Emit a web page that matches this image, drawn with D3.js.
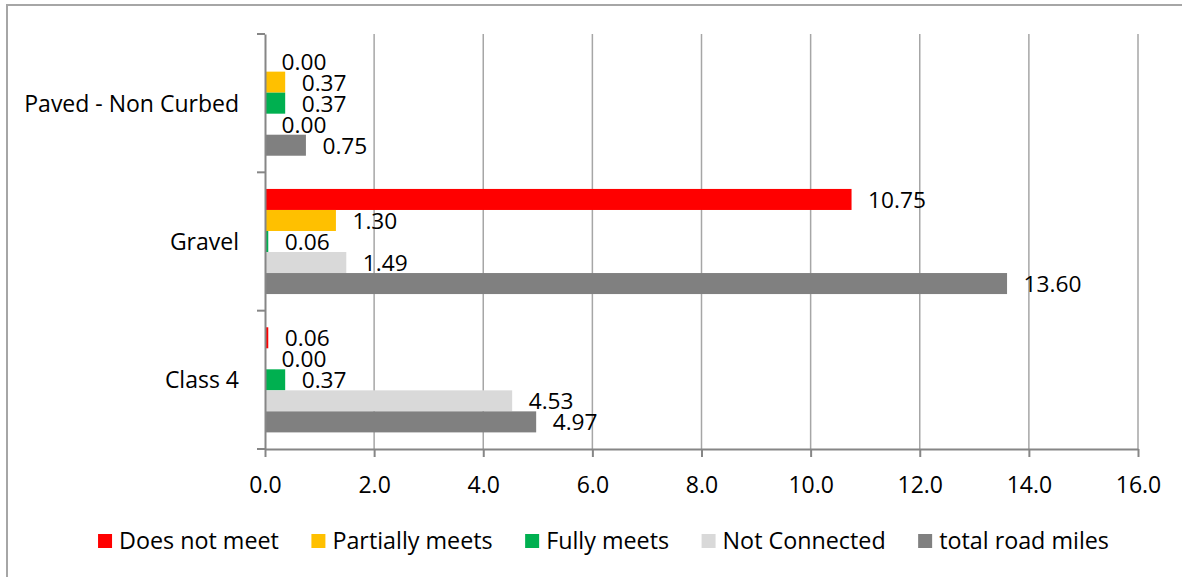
<!DOCTYPE html>
<html>
<head>
<meta charset="utf-8">
<script src="https://cdn.jsdelivr.net/npm/d3@7"></script>
<style>
  html, body { margin: 0; padding: 0; background: #fff; }
  svg { display: block; font-family: "Open Sans", sans-serif; }
</style>
</head>
<body>
<svg id="chart" width="1182" height="577"></svg>
<script>
// Road categories (top to bottom)
const categories = ["Paved - Non Curbed", "Gravel", "Class 4"];
// Series shown within each category (top to bottom)
const seriesNames = ["Does not meet", "Partially meets", "Fully meets", "Not Connected", "total road miles"];
const seriesColors = ["#FF0000", "#FFC000", "#00B050", "#D9D9D9", "#808080"];
// Miles per series, one entry per category
const doesNotMeet = [0.00, 10.75, 0.06];
const partiallyMeets = [0.37, 1.30, 0.00];
const fullyMeets = [0.37, 0.06, 0.37];
const notConnected = [0.00, 1.49, 4.53];
const totalRoadMiles = [0.75, 13.60, 4.97];
const xTicks = [0, 2, 4, 6, 8, 10, 12, 14, 16];

const seriesValues = [doesNotMeet, partiallyMeets, fullyMeets, notConnected, totalRoadMiles];

const svg = d3.select("#chart");
const W = 1182, H = 577;
const plot = { left: 265, right: 1138, top: 34, bottom: 449 };

// Chart frame
svg.append("rect")
  .attr("x", 7).attr("y", 5)
  .attr("width", W + 20).attr("height", H + 20)
  .attr("fill", "#fff")
  .attr("stroke", "#A6A6A6")
  .attr("stroke-width", 2);

const x = d3.scaleLinear().domain([0, 16]).range([plot.left, plot.right]);
const y = d3.scaleBand().domain(categories).range([plot.top, plot.bottom]).padding(0);
const ySub = d3.scaleBand().domain(seriesNames).range([0, y.bandwidth()])
  .paddingInner(0).paddingOuter(0.79);

// Vertical gridlines
svg.append("g")
  .selectAll("line")
  .data(xTicks.filter(d => d > 0))
  .join("line")
  .attr("x1", d => x(d)).attr("x2", d => x(d))
  .attr("y1", plot.top).attr("y2", plot.bottom)
  .attr("stroke", "#A6A6A6")
  .attr("stroke-width", 1.5);

// Bars
const groups = svg.append("g")
  .selectAll("g")
  .data(categories)
  .join("g")
  .attr("transform", c => `translate(0,${y(c)})`);

groups.each(function(c, ci) {
  const g = d3.select(this);
  const rows = seriesNames.map((s, si) => ({ s, v: seriesValues[si][ci], color: seriesColors[si] }));
  g.selectAll("rect")
    .data(rows)
    .join("rect")
    .attr("x", x(0))
    .attr("y", d => ySub(d.s))
    .attr("width", d => x(d.v) - x(0))
    .attr("height", ySub.bandwidth())
    .attr("fill", d => d.color);
  g.selectAll("text")
    .data(rows)
    .join("text")
    .attr("x", d => x(d.v) + 16.5)
    .attr("y", d => ySub(d.s) + ySub.bandwidth() / 2)
    .attr("dy", "0.37em")
    .attr("font-size", 22.7)
    .attr("fill", "#000")
    .text(d => d.v.toFixed(2));
});

// X axis
const xAxis = svg.append("g")
  .attr("transform", `translate(0,${plot.bottom})`)
  .call(d3.axisBottom(x).tickValues(xTicks).tickFormat(d3.format(".1f")).tickSize(8).tickSizeOuter(0));
xAxis.select(".domain").attr("stroke", "#868686").attr("stroke-width", 2);
xAxis.selectAll(".tick line").attr("stroke", "#868686").attr("stroke-width", 2);
xAxis.selectAll(".tick text")
  .attr("font-family", "Open Sans, sans-serif")
  .attr("font-size", 23)
  .attr("fill", "#000")
  .attr("y", 44).attr("dy", 0);

// Y axis
const yAxis = svg.append("g")
  .attr("transform", `translate(${plot.left},0)`)
  .call(d3.axisLeft(y).tickSize(0).tickSizeOuter(0).tickPadding(26));
yAxis.select(".domain").attr("stroke", "#868686").attr("stroke-width", 2);
yAxis.selectAll(".tick text")
  .attr("font-family", "Open Sans, sans-serif")
  .attr("font-size", 23)
  .attr("fill", "#000")
  .attr("dy", "0.37em");
// Category separator ticks
const bounds = categories.map(c => y(c)).concat([plot.bottom]);
yAxis.append("g")
  .selectAll("line")
  .data(bounds)
  .join("line")
  .attr("x1", -8).attr("x2", 0)
  .attr("y1", d => d).attr("y2", d => d)
  .attr("stroke", "#868686")
  .attr("stroke-width", 2);

// Legend
const legend = svg.append("g");
const items = legend.selectAll("g")
  .data(seriesNames.map((s, i) => ({ s, color: seriesColors[i] })))
  .join("g");
items.append("rect")
  .attr("width", 14).attr("height", 14)
  .attr("y", 534)
  .attr("fill", d => d.color);
items.append("text")
  .attr("x", 21)
  .attr("y", 549)
  .attr("font-size", 23.3)
  .attr("fill", "#000")
  .text(d => d.s);
let cursor = 0;
const offsets = [];
items.each(function() {
  const w = this.querySelector("text").getComputedTextLength();
  offsets.push(cursor);
  cursor += 21 + w + 32.5;
});
const total = cursor - 32.5;
const start = 603.5 - total / 2;
items.attr("transform", (d, i) => `translate(${start + offsets[i]},0)`);
</script>
</body>
</html>
